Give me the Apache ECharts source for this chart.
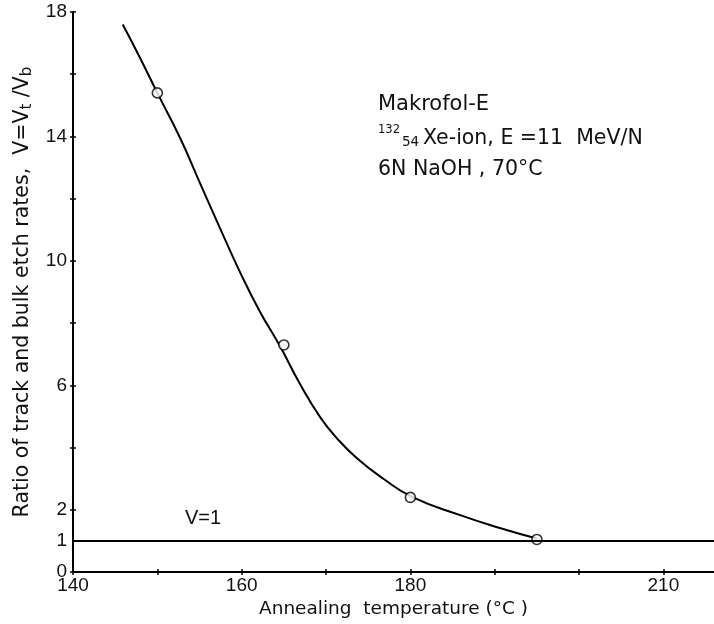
<!DOCTYPE html>
<html>
<head>
<meta charset="utf-8">
<script src="https://cdn.jsdelivr.net/npm/echarts@6/dist/echarts.min.js"></script>
<style>
  html, body { margin: 0; padding: 0; background: #fff; }
  #chart { width: 714px; height: 624px; }
</style>
</head>
<body>
<div id="chart"></div>
<script>
// Fitted etch-rate ratio curve versus annealing temperature
const curveTemp  = [145.9, 148.0, 150.0, 152.7, 154.9, 157.4, 159.8, 162.2, 164.5, 166.9, 169.3, 171.3, 173.7, 176.8, 180.2, 185.9, 190.7, 195.0];
const curveRatio = [17.6, 16.5, 15.4, 13.95, 12.6, 11.07, 9.64, 8.35, 7.28, 6.05, 4.98, 4.3, 3.65, 3.0, 2.42, 1.83, 1.41, 1.08];

// Measured points
const measuredTemp  = [150, 165, 180, 195];
const measuredRatio = [15.4, 7.3, 2.4, 1.05];

// Reference level V = 1
const unityLevel = 1;

// Axis ticks and labels
const xTicks  = [140, 150, 160, 170, 180, 190, 200, 210];
const xLabels = [140, 160, 180, 210];
const yTicks  = [0, 2, 4, 6, 8, 10, 12, 14, 16, 18];
const yLabels = [0, 1, 2, 6, 10, 14, 18];

const zip = (a, b) => a.map((v, i) => [v, b[i]]);

const tickFont = { fontFamily: 'Liberation Sans, Arial, sans-serif', fontSize: 19, color: '#111' };
const black = '#000';

const chart = echarts.init(document.getElementById('chart'), null, { renderer: 'canvas' });

chart.setOption({
  animation: false,
  backgroundColor: '#fff',
  grid: { left: 73, right: 0, top: 12, bottom: 50, containLabel: false },
  xAxis: [{
    type: 'value', min: 140, max: 216,
    name: 'Annealing  temperature (°C )',
    nameLocation: 'middle', nameGap: 27,
    nameTextStyle: { fontFamily: 'DejaVu Sans, sans-serif', fontSize: 18.5, color: '#111' },
    axisLine: { show: true, onZero: false, lineStyle: { color: black, width: 2 } },
    axisTick: { show: true, length: 3, customValues: xTicks, lineStyle: { color: black, width: 1.5 } },
    axisLabel: Object.assign({ customValues: xLabels, margin: 4 }, tickFont),
    splitLine: { show: false }
  }, {
    type: 'value', min: 140, max: 216, position: 'bottom', offset: 0,
    axisLine: { show: false },
    axisTick: { show: true, inside: true, length: 3, customValues: xTicks, lineStyle: { color: black, width: 1.5 } },
    axisLabel: { show: false },
    splitLine: { show: false }
  }],
  yAxis: [{
    type: 'value', min: 0, max: 18,
    name: '{n|Ratio of track and bulk etch rates,  V=V}{s|t}{n| /V}{s|b}',
    nameLocation: 'middle', nameGap: 36,
    nameTextStyle: {
      fontFamily: 'DejaVu Sans, sans-serif', fontSize: 20.5, color: '#111',
      rich: {
        n: { fontFamily: 'DejaVu Sans, sans-serif', fontSize: 20.5, color: '#111' },
        s: { fontFamily: 'DejaVu Sans, sans-serif', fontSize: 15, color: '#111', padding: [9, 0, 0, 0] }
      }
    },
    axisLine: { show: true, onZero: false, lineStyle: { color: black, width: 2 } },
    axisTick: { show: true, length: 3, customValues: yTicks, lineStyle: { color: black, width: 1.5 } },
    axisLabel: Object.assign({ customValues: yLabels, margin: 6 }, tickFont),
    splitLine: { show: false }
  }, {
    type: 'value', min: 0, max: 18, position: 'left', offset: 0,
    axisLine: { show: false },
    axisTick: { show: true, inside: true, length: 3, customValues: yTicks, lineStyle: { color: black, width: 1.5 } },
    axisLabel: { show: false },
    splitLine: { show: false }
  }],
  series: [{
    type: 'line',
    name: 'fit',
    data: zip(curveTemp, curveRatio),
    showSymbol: false,
    smooth: 0.5,
    lineStyle: { color: black, width: 2 },
    z: 2,
    markLine: {
      silent: true,
      symbol: 'none',
      label: { show: false },
      lineStyle: { color: black, width: 2, type: 'solid' },
      data: [{ yAxis: unityLevel }]
    }
  }, {
    type: 'scatter',
    name: 'measured',
    data: zip(measuredTemp, measuredRatio),
    symbol: 'circle',
    symbolSize: 10,
    itemStyle: { color: '#fff', borderColor: black, borderWidth: 1.6 },
    z: 3
  }],
  graphic: [
    { type: 'text', left: 185, top: 508,
      style: { text: 'V=1', font: '20px "Liberation Sans", Arial, sans-serif', fill: '#111' } },
    { type: 'text', left: 378, top: 94,
      style: { text: 'Makrofol-E', font: '21px "DejaVu Sans", sans-serif', fill: '#111' } },
    { type: 'text', left: 378, top: 124,
      style: { text: '132', font: '11.5px "DejaVu Sans", sans-serif', fill: '#111' } },
    { type: 'text', left: 402, top: 135,
      style: { text: '54', font: '13.5px "DejaVu Sans", sans-serif', fill: '#111' } },
    { type: 'text', left: 423, top: 128,
      style: { text: 'Xe-ion, E =11  MeV/N', font: '20.5px "DejaVu Sans", sans-serif', fill: '#111' } },
    { type: 'text', left: 378, top: 159,
      style: { text: '6N NaOH , 70°C', font: '20.5px "DejaVu Sans", sans-serif', fill: '#111' } }
  ]
});
</script>
</body>
</html>
